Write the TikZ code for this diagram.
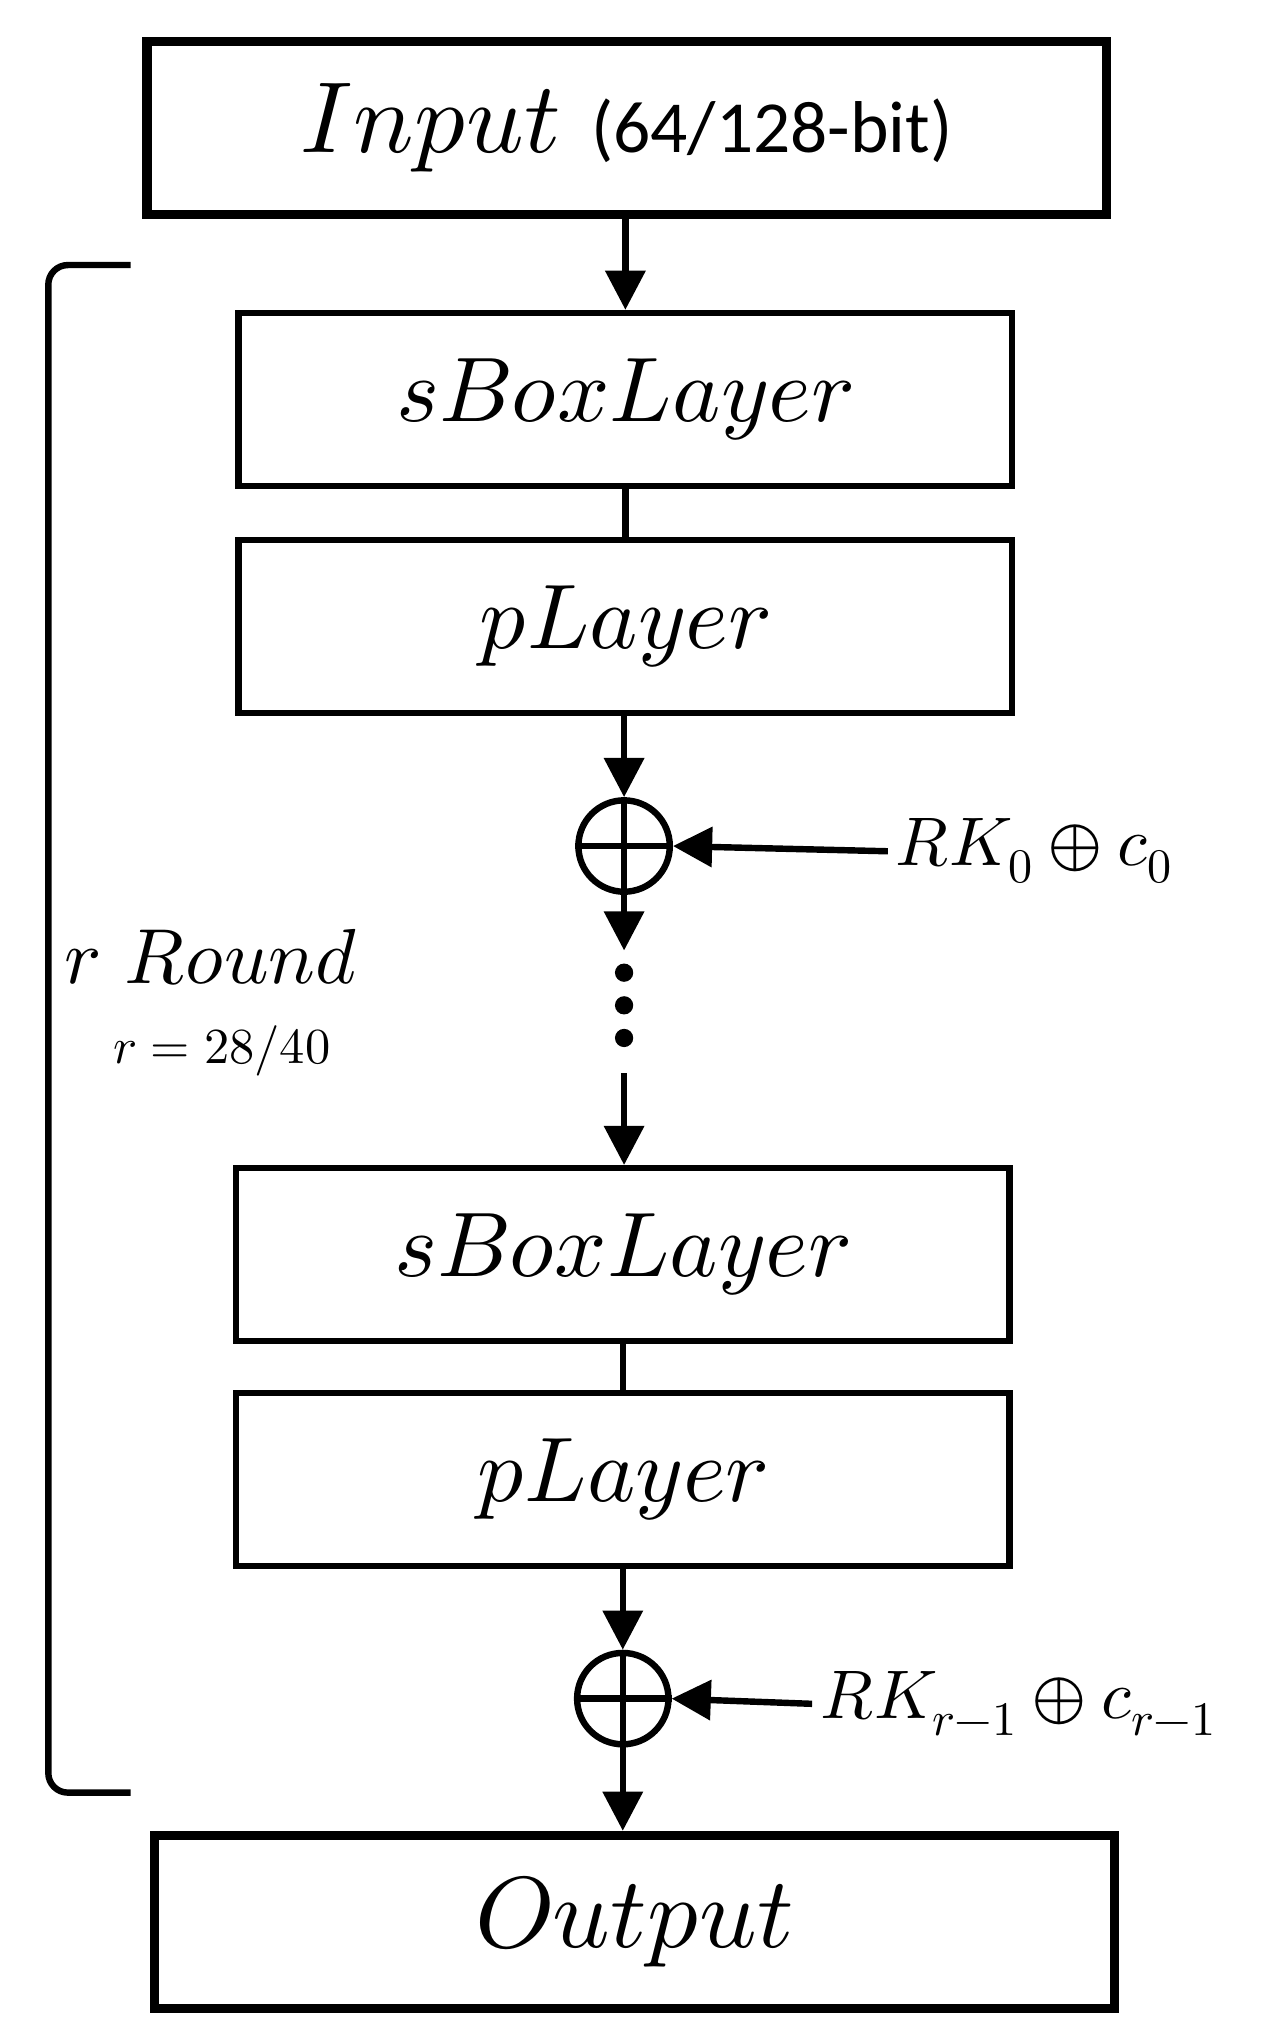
\documentclass[tikz,border=0pt]{standalone}
\usepackage{amsmath}
\usepackage{fontspec}
\usepackage{unicode-math}
\setmathfont{Latin Modern Math}
\newfontfamily\carl{Carlito}
\usetikzlibrary{positioning, arrows.meta}

\tikzset{
  layer/.style={draw, line width=2.8pt, minimum width=11.85cm, minimum height=2.65cm, font=\fontsize{40}{48}\selectfont},
  io/.style={draw, line width=4pt, minimum height=2.65cm, font=\fontsize{44}{52}\selectfont},
  xor/.style={draw, circle, line width=2.8pt, minimum size=1.4cm, inner sep=0pt},
  flow/.style={line width=2.8pt, -{Triangle[length=0.6cm, width=0.6cm]}},
  link/.style={line width=2.8pt},
  key/.style={font=\fontsize{30}{36}\selectfont, anchor=west}
}

\begin{document}
\begin{tikzpicture}[x=0.02cm, y=-0.02cm]
\useasboundingbox (0,0) rectangle (970,1551);

\node[io, minimum width=14.7cm](In) at (480,98) {$Input$ {\carl\fontsize{32}{38}\selectfont (64/128-bit)}};
\node[layer](S0) at (479,306) {$sBoxLayer$};
\node[layer](P0) at (479,480) {$pLayer$};
\node[xor](X0) at (478,648) {};
\node[key](K0) at (680,652) {$RK_0 \oplus c_0$};
\node[layer](S1) at (477,961) {$sBoxLayer$};
\node[layer](P1) at (477,1133) {$pLayer$};
\node[xor](X1) at (477,1301) {};
\node[key](K1) at (622,1305) {$RK_{r-1} \oplus c_{r-1}$};
\node[io, minimum width=14.7cm](Out) at (486,1472) {$Output$};

\coordinate(D0) at (478,728);
\coordinate(D1) at (478,822);

% plus signs inside the circles
\draw[link] (X0.north) -- (X0.south);
\draw[link] (X0.west) -- (X0.east);
\draw[link] (X1.north) -- (X1.south);
\draw[link] (X1.west) -- (X1.east);

\draw[flow] (In.south -| S0) -- (S0.north);
\draw[link] (S0) -- (P0);
\draw[flow] (P0.south -| X0) -- (X0.north);
\draw[flow] (K0.west) -- (X0.east);
\draw[flow] (X0.south) -- (D0);
\foreach \y in {745,770,795}
  \fill (478,\y) circle (0.14cm);
\draw[flow] (D1) -- (S1.north -| D1);
\draw[link] (S1) -- (P1);
\draw[flow] (P1.south -| X1) -- (X1.north);
\draw[flow] (K1.west) -- (X1.east);
\draw[flow] (X1.south) -- (Out.north -| X1);

% round bracket
\draw[link, rounded corners=0.3cm] (100,203) -- (37,203) -- (37,1373) -- (100,1373);
\node[font=\fontsize{34}{40}\selectfont](R) at (162,733) {$r\ Round$};
\node[font=\fontsize{22}{26}\selectfont](N) at (170,805) {$r=28/40$};
\end{tikzpicture}
\end{document}
